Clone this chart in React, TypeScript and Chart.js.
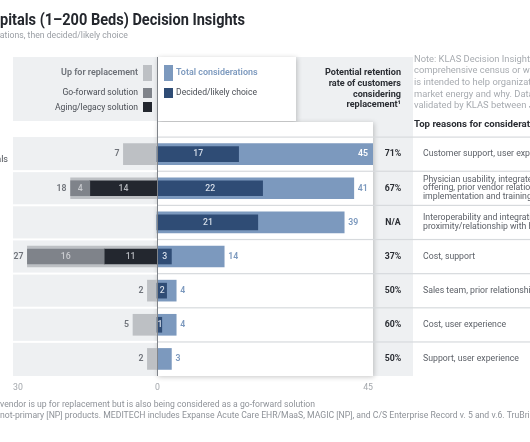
import React, { useEffect, useRef } from "react";
import { Chart, registerables } from "chart.js";

Chart.register(...registerables);

// ---------------- data ----------------
const categories: string[][] = [
  ["Epic", "Standalone Hospitals"],
  ["Oracle Health"],
  ["Epic Community", "Connect"],
  ["MEDITECH"],
  ["TruBridge"],
  ["Altera"],
  ["athenahealth"],
];
const upForReplacement = [7, 18, 0, 27, 2, 5, 2];
const goForwardSolution = [0, 4, 0, 16, 0, 0, 0];
const agingLegacySolution = [0, 14, 0, 11, 0, 0, 0];
const totalConsiderations = [45, 41, 39, 14, 4, 4, 3];
const decidedLikelyChoice = [17, 22, 21, 3, 2, 1, 0];
const retentionRate = ["71%", "67%", "N/A", "37%", "50%", "60%", "50%"];
const topReasons: string[][] = [
  ["Customer support, user experience"],
  ["Physician usability, integrated product", "offering, prior vendor relationship,", "implementation and training"],
  ["Interoperability and integration,", "proximity/relationship with host"],
  ["Cost, support"],
  ["Sales team, prior relationship"],
  ["Cost, user experience"],
  ["Support, user experience"],
];
const axisTicks = [-30, 0, 45];
const axisMin = -30;
const axisMax = 45;

const titlePrefix = "Small Hos";
const titleText = "pitals (1–200 Beds) Decision Insights";
const subtitlePrefix = "Sorted by total consider";
const subtitleText = "ations, then decided/likely choice";
const legendLeft = ["Up for replacement", "Go-forward solution", "Aging/legacy solution"];
const legendRight = ["Total considerations", "Decided/likely choice"];
const retentionHeader = ["Potential retention", "rate of customers", "considering", "replacement¹"];
const noteLines = [
  "Note: KLAS Decision Insights data is not a",
  "comprehensive census or weighted sample but",
  "is intended to help organizations understand",
  "market energy and why. Data was collected and",
  "validated by KLAS between January and December",
];
const reasonsHeader = "Top reasons for consideration";
const footnotePrefixes = ["¹Percentage of customers whose current ", "²Data includes primary and "];
const footnoteTexts = [
  "vendor is up for replacement but is also being considered as a go-forward solution",
  "not-primary [NP] products. MEDITECH includes Expanse Acute Care EHR/MaaS, MAGIC [NP], and C/S Enterprise Record v. 5 and v.6. TruBridge includes Thrive",
];

// ---------------- colours ----------------
const C_UP = "#bdc0c4";
const C_GO = "#7f838a";
const C_AGING = "#23272f";
const C_TOTAL = "#7c99be";
const C_DECIDED = "#2f4c75";
const C_PANEL = "#eef0f2";
const FONT = 'Roboto, "Noto Sans", sans-serif';

function f(size: number, weight = 400) {
  return `${weight} ${size}px ${FONT}`;
}

function calib(ctx: CanvasRenderingContext2D, font: string, ref: string, target: number) {
  ctx.font = font;
  return target / ctx.measureText(ref).width;
}

function drawText(
  ctx: CanvasRenderingContext2D,
  text: string,
  x: number,
  y: number,
  font: string,
  color: string,
  align: CanvasTextAlign,
  sx = 1
) {
  ctx.save();
  ctx.font = font;
  ctx.fillStyle = color;
  ctx.textAlign = align;
  ctx.textBaseline = "middle";
  ctx.translate(x, y);
  ctx.scale(sx, 1);
  ctx.fillText(text, 0, 0);
  ctx.restore();
}

function width(ctx: CanvasRenderingContext2D, text: string, font: string) {
  ctx.font = font;
  return ctx.measureText(text).width;
}

const decorPlugin = {
  id: "decor",
  beforeDraw(chart: any) {
    const ctx: CanvasRenderingContext2D = chart.ctx;
    const xs = chart.scales.x;
    const ys = chart.scales.y;
    const { top, bottom, left, right } = chart.chartArea;
    const x0 = xs.getPixelForValue(0);
    const colRight = right + 40;
    ctx.save();
    ctx.fillStyle = C_PANEL;
    ctx.fillRect(left, 57, x0 - left, 64);
    ctx.fillRect(left, top, x0 - left, bottom - top);
    ctx.fillRect(x0, 57, colRight - x0, bottom - 57);
    // white chart panel
    ctx.save();
    ctx.shadowColor = "rgba(0,0,0,0.22)";
    ctx.shadowBlur = 5;
    ctx.shadowOffsetX = 1;
    ctx.shadowOffsetY = 1;
    ctx.fillStyle = "#ffffff";
    ctx.fillRect(x0, 122, right - x0, bottom - 122);
    ctx.fillRect(x0, 57, 139, 64);
    ctx.restore();
    ctx.fillStyle = "#ffffff";
    ctx.fillRect(x0, 122, right - x0, bottom - 122);
    ctx.fillRect(x0, 57, 139, 64);

    // row separators
    const n = categories.length;
    for (let i = 0; i <= n - 1; i++) {
      const yb = i === 0 ? top : (ys.getPixelForValue(i - 1) + ys.getPixelForValue(i)) / 2;
      if (i > 0) {
        ctx.fillStyle = "#ffffff";
        ctx.fillRect(left, yb - 1, x0 - left, 2);
      }
      ctx.fillStyle = "#d7dadd";
      ctx.fillRect(x0, yb - 0.5, 530 - x0, 1.2);
    }
    ctx.restore();
  },
  afterDatasetsDraw(chart: any) {
    const ctx: CanvasRenderingContext2D = chart.ctx;
    const xs = chart.scales.x;
    const ys = chart.scales.y;
    const { bottom, right } = chart.chartArea;
    const x0 = xs.getPixelForValue(0);

    // zero line
    ctx.save();
    ctx.fillStyle = "#80848a";
    ctx.fillRect(x0, 57, 1, bottom - 57);
    ctx.restore();

    const barFont = f(9.5, 500);
    const sxBar = 0.92;
    for (let i = 0; i < categories.length; i++) {
      const y = ys.getPixelForValue(i);
      const up = upForReplacement[i];
      if (up > 0) {
        drawText(ctx, String(up), xs.getPixelForValue(-up) - 4, y, f(9.5, 600), "#6f737a", "right", sxBar);
      }
      if (goForwardSolution[i] > 0) {
        const a = xs.getPixelForValue(-(goForwardSolution[i] + agingLegacySolution[i]));
        const b = xs.getPixelForValue(-agingLegacySolution[i]);
        drawText(ctx, String(goForwardSolution[i]), (a + b) / 2, y, barFont, "#c9cbcf", "center", sxBar);
      }
      if (agingLegacySolution[i] > 0) {
        const a = xs.getPixelForValue(-agingLegacySolution[i]);
        drawText(ctx, String(agingLegacySolution[i]), (a + x0) / 2, y, barFont, "#b4b7bc", "center", sxBar);
      }
      if (decidedLikelyChoice[i] > 0) {
        const b = xs.getPixelForValue(decidedLikelyChoice[i]);
        drawText(ctx, String(decidedLikelyChoice[i]), (x0 + b) / 2 + 0.5, y, barFont, "#d6dee9", "center", sxBar);
      }
      const t = totalConsiderations[i];
      const te = xs.getPixelForValue(t);
      const tw = width(ctx, String(t), barFont) * sxBar;
      if (te + 4 + tw > right) {
        drawText(ctx, String(t), te - 5, y, f(9.5, 600), "#ffffff", "right", sxBar);
      } else {
        drawText(ctx, String(t), te + 4, y, f(9.5, 600), C_TOTAL, "left", sxBar);
      }
    }
  },
  afterDraw(chart: any) {
    const ctx: CanvasRenderingContext2D = chart.ctx;
    const xs = chart.scales.x;
    const ys = chart.scales.y;
    const { bottom, right } = chart.chartArea;

    // title
    const tf = f(16, 700);
    const sxT = calib(ctx, tf, titleText, 245);
    drawText(ctx, titlePrefix + titleText, -width(ctx, titlePrefix, tf) * sxT, 21, tf, "#24272d", "left", sxT);
    const sf = f(9.5, 400);
    const sxS = calib(ctx, sf, subtitleText, 128);
    drawText(ctx, subtitlePrefix + subtitleText, -width(ctx, subtitlePrefix, sf) * sxS, 35.5, sf, "#9a9ea4", "left", sxS);

    // legend left
    const lb = f(9.5, 600);
    const lr = f(9.5, 400);
    const sxLb = calib(ctx, lb, legendLeft[0], 77);
    const sxLr = calib(ctx, lr, legendLeft[2], 83);
    drawText(ctx, legendLeft[0], 138, 73, lb, "#6c7077", "right", sxLb);
    drawText(ctx, legendLeft[1], 138, 93, lr, "#4a4e55", "right", sxLr);
    drawText(ctx, legendLeft[2], 138, 107.5, lr, "#4a4e55", "right", sxLr);
    ctx.fillStyle = C_UP;
    ctx.fillRect(143, 65, 9, 16);
    ctx.fillStyle = C_GO;
    ctx.fillRect(143, 88, 9, 10);
    ctx.fillStyle = C_AGING;
    ctx.fillRect(143, 102, 9, 10);
    // legend right
    ctx.fillStyle = C_TOTAL;
    ctx.fillRect(164, 65, 9, 16);
    ctx.fillStyle = C_DECIDED;
    ctx.fillRect(164, 88, 9, 10);
    drawText(ctx, legendRight[0], 176, 73, lb, C_TOTAL, "left", sxLb);
    drawText(ctx, legendRight[1], 176, 93, lr, "#4a4e55", "left", sxLr);

    // retention header
    const rh = f(9.5, 700);
    const sxR = calib(ctx, rh, retentionHeader[0], 76);
    const rhY = [72.7, 83.5, 94.3, 105];
    retentionHeader.forEach((s, k) => drawText(ctx, s, 401, rhY[k], rh, "#2a2d33", "right", sxR));

    // note
    const nf = f(9, 400);
    const sxN = calib(ctx, nf, "Note: KLAS Decision Insight", 116);
    const nY = [59.3, 71, 82.8, 94.5, 106.2];
    noteLines.forEach((s, k) => drawText(ctx, s, 414, nY[k], nf, "#a7abb0", "left", sxN));
    const nb = f(9, 700);
    const sxNb = calib(ctx, nb, "Top reasons for considerat", 116);
    drawText(ctx, reasonsHeader, 414, 124.5, nb, "#2a2d33", "left", sxNb);

    // rows: category labels, retention, reasons
    const cf = f(9, 400);
    const rf = f(8.7, 400);
    const sxRf = calib(ctx, rf, "Customer support, user exp", 107);
    const catStart = 8 - width(ctx, categories[0][categories[0].length - 1], cf) * sxRf;
    const pf = f(9.5, 700);
    for (let i = 0; i < categories.length; i++) {
      const y = ys.getPixelForValue(i);
      const cl = categories[i];
      cl.forEach((s, k) => {
        drawText(ctx, s, catStart, y + (k - (cl.length - 1) / 2) * 11, cf, "#4a4e55", "left", sxRf);
      });
      drawText(ctx, retentionRate[i], right + 20, y, pf, "#2a2d33", "center", 0.92);
      const lines = topReasons[i];
      lines.forEach((s, k) => {
        drawText(ctx, s, 423, y + (k - (lines.length - 1) / 2) * 8.6, rf, "#5d6168", "left", sxRf);
      });
    }

    // axis ticks
    const af = f(9.5, 400);
    axisTicks.forEach((v) => {
      const px = xs.getPixelForValue(v);
      const align: CanvasTextAlign = v === axisMin ? "left" : v === axisMax ? "right" : "center";
      drawText(ctx, String(Math.abs(v)), px + (v === 0 ? 0.5 : 0), bottom + 11.3, af, "#a3a7ac", align, 0.92);
    });

    // footnotes
    const ff = f(9, 400);
    const sxF = calib(ctx, ff, footnoteTexts[0], 315);
    const fY = [405, 415.8];
    footnoteTexts.forEach((s, k) => {
      const pre = footnotePrefixes[k];
      drawText(ctx, pre + s, -width(ctx, pre, ff) * sxF, fY[k], ff, "#8e9298", "left", sxF);
    });
  },
};

export default function App() {
  const ref = useRef<HTMLCanvasElement | null>(null);
  useEffect(() => {
    if (!ref.current) return;
    const chart = new Chart(ref.current, {
      type: "bar",
      data: {
        labels: categories.map((c) => c.join(" ")),
        datasets: [
          {
            label: "Up for replacement",
            data: upForReplacement.map((v) => (v > 0 ? [-v, 0] : null)) as any,
            backgroundColor: C_UP,
            barThickness: 21,
            grouped: false,
            order: 3,
          },
          {
            label: "Go-forward solution",
            data: goForwardSolution.map((v, i) => (v > 0 ? [-(v + agingLegacySolution[i]), -agingLegacySolution[i]] : null)) as any,
            backgroundColor: C_GO,
            barThickness: 15,
            grouped: false,
            order: 1,
          },
          {
            label: "Aging/legacy solution",
            data: agingLegacySolution.map((v) => (v > 0 ? [-v, 0] : null)) as any,
            backgroundColor: C_AGING,
            barThickness: 15,
            grouped: false,
            order: 1,
          },
          {
            label: "Total considerations",
            data: totalConsiderations.map((v) => [0, v]) as any,
            backgroundColor: C_TOTAL,
            barThickness: 21,
            grouped: false,
            order: 3,
          },
          {
            label: "Decided/likely choice",
            data: decidedLikelyChoice.map((v) => (v > 0 ? [0, v] : null)) as any,
            backgroundColor: C_DECIDED,
            barThickness: 15,
            grouped: false,
            order: 1,
          },
        ],
      },
      options: {
        indexAxis: "y",
        responsive: false,
        animation: false,
        devicePixelRatio: 1,
        layout: { padding: { left: 13, right: 157, top: 137, bottom: 66 } },
        scales: {
          x: { type: "linear", min: axisMin, max: axisMax, display: false },
          y: { type: "category", display: false },
        },
        plugins: { legend: { display: false }, tooltip: { enabled: false } },
      },
      plugins: [decorPlugin],
    });
    return () => chart.destroy();
  }, []);
  return (
    <div style={{ position: "absolute", left: 0, top: 0, width: 530, height: 442, background: "#fff" }}>
      <canvas ref={ref} width={530} height={442} style={{ display: "block" }} />
    </div>
  );
}
